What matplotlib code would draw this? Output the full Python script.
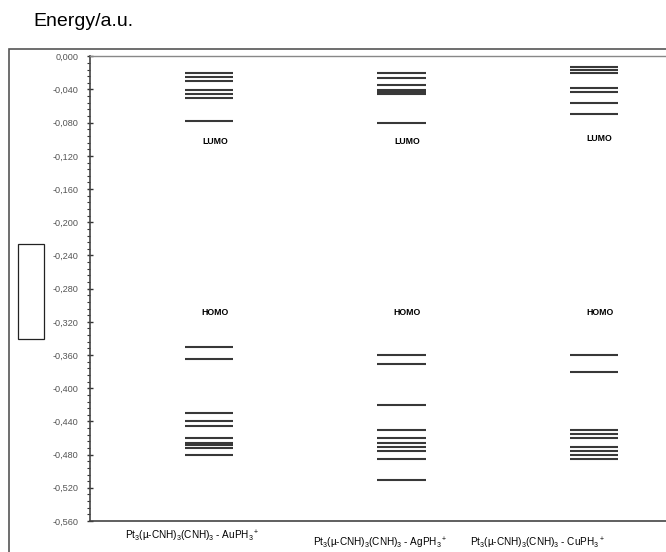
import matplotlib
matplotlib.use("Agg")
import matplotlib.pyplot as plt
from matplotlib.patches import Rectangle
from matplotlib.ticker import MultipleLocator, FuncFormatter

plt.rcParams['font.family'] = ['Liberation Sans', 'DejaVu Sans']
plt.rcParams['mathtext.default'] = 'regular'

# orbital energies (a.u.)
complexes = ['Pt$_3$(µ-CNH)$_3$(CNH)$_3$ - AuPH$_3$$^+$',
             'Pt$_3$(µ-CNH)$_3$(CNH)$_3$ - AgPH$_3$$^+$',
             'Pt$_3$(µ-CNH)$_3$(CNH)$_3$ - CuPH$_3$$^+$']
au_levels = [-0.0205, -0.0253, -0.0301, -0.0402, -0.0451, -0.0506, -0.078,
             -0.3499, -0.365, -0.430, -0.440, -0.4454, -0.460, -0.4655,
             -0.4683, -0.4716, -0.4804]
ag_levels = [-0.0205, -0.0258, -0.0346, -0.0406, -0.0434, -0.0458, -0.080,
             -0.3599, -0.3707, -0.4201, -0.4502, -0.4602, -0.4655, -0.4703,
             -0.4755, -0.4852, -0.5105]
cu_levels = [-0.0133, -0.0165, -0.0205, -0.0378, -0.0426, -0.0559, -0.0695,
             -0.3599, -0.380, -0.4502, -0.4554, -0.4602, -0.4703, -0.4755,
             -0.4804, -0.4852]
lumo_y = [-0.103, -0.103, -0.0985]
homo_y = [-0.309, -0.309, -0.309]

W, H = 666, 552
fig = plt.figure(figsize=(W / 100, H / 100), dpi=100)
fig.patch.set_facecolor('white')

# chart-area border and empty legend box (figure pixels)
fig.add_artist(Rectangle((9 / W, -0.05), 1.1, (H - 49) / H + 0.05,
                         transform=fig.transFigure, fill=False,
                         edgecolor='#555555', lw=1.2))
fig.add_artist(Rectangle((18 / W, (H - 339) / H), 26 / W, 95 / H,
                         transform=fig.transFigure, facecolor='white',
                         edgecolor='#222222', lw=0.9))

ax = fig.add_axes([90 / W, (H - 521) / H, (W - 90) / W + 0.01, (521 - 56.3) / H])
ax.set_facecolor('none')

half = 0.125
for xi, levels in enumerate([au_levels, ag_levels, cu_levels], start=1):
    ax.hlines(levels, xi - half, xi + half, color='#383838', lw=1.5)

for xi, (ly, hy) in enumerate(zip(lumo_y, homo_y), start=1):
    ax.text(xi + 0.03, ly, 'LUMO', fontsize=6.3, fontweight='bold',
            ha='center', va='center')
    ax.text(xi + 0.03, hy, 'HOMO', fontsize=6.3, fontweight='bold',
            ha='center', va='center')

ax.set_xlim(0.38, 3.41)
ax.set_ylim(-0.56, 0.0)
ax.set_xticks([])
ax.yaxis.set_major_locator(MultipleLocator(0.04))
ax.yaxis.set_minor_locator(MultipleLocator(0.008))


def fmt(v, pos):
    s = f"{v:.3f}".replace('.', ',')
    return '0,000' if s in ('-0,000',) else s


ax.yaxis.set_major_formatter(FuncFormatter(fmt))
ax.tick_params(axis='y', which='major', direction='inout', length=5,
               width=1.0, color='#333333', labelsize=6.6,
               labelcolor='#555555', pad=6)
ax.tick_params(axis='y', which='minor', direction='out', length=2.5,
               width=0.8, color='#333333')
for side in ['left', 'bottom']:
    ax.spines[side].set_color('#444444')
    ax.spines[side].set_linewidth(1.2)
ax.spines['top'].set_color('#888888')
ax.spines['top'].set_linewidth(1.0)
ax.spines['right'].set_visible(False)

# axis title and category labels
fig.text(33 / W, 1 - 22 / H, 'Energy/a.u.', fontsize=14, ha='left',
         va='center')
label_pos = [(192, 536), (380, 543), (538, 543)]
for lab, (px, py) in zip(complexes, label_pos):
    fig.text(px / W, 1 - py / H, lab, fontsize=7.2, ha='center', va='center')

fig.savefig('out.png', dpi=100, facecolor='white')
